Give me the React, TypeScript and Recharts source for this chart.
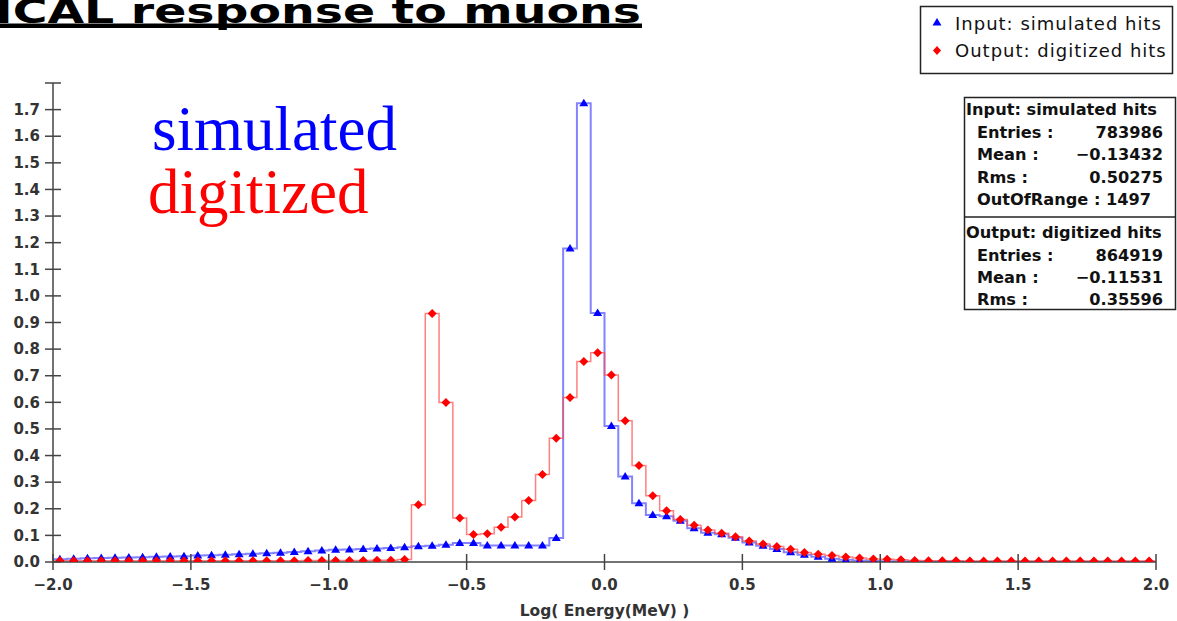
import { ComposedChart, Line, XAxis, YAxis } from "recharts";

// histogram binning: 80 bins of 0.05 between -2 and 2
const binLow = -2.0;
const binHigh = 2.0;
const binWidth = 0.05;

const xTicks = [-2.0, -1.5, -1.0, -0.5, 0.0, 0.5, 1.0, 1.5, 2.0];
const yTicks = [0, 0.1, 0.2, 0.3, 0.4, 0.5, 0.6, 0.7, 0.8, 0.9, 1.0, 1.1, 1.2, 1.3, 1.4, 1.5, 1.6, 1.7, 1.8];

// Input: simulated hits (bin contents, left to right)
const simulated = [
    0.010, 0.012, 0.014, 0.015, 0.016, 0.017, 0.018, 0.020, 0.021, 0.022,
    0.024, 0.025, 0.027, 0.029, 0.031, 0.033, 0.035, 0.038, 0.040, 0.043,
    0.046, 0.047, 0.049, 0.051, 0.053, 0.055, 0.059, 0.061, 0.065, 0.071,
    0.071, 0.062, 0.062, 0.062, 0.062, 0.062, 0.090, 1.178, 1.724, 0.936,
    0.511, 0.321, 0.221, 0.177, 0.172, 0.155, 0.127, 0.110, 0.104, 0.091,
    0.073, 0.061, 0.049, 0.037, 0.027, 0.020, 0.012, 0.008, 0.006, 0.004,
    0.003, 0.003, 0.002, 0.002, 0.002, 0.002, 0.001, 0.001, 0.001, 0.001,
    0.001, 0.001, 0.001, 0.001, 0.001, 0.001, 0.001, 0.001, 0.001, 0.001,
];

// Output: digitized hits
const digitized = [
    0.005, 0.005, 0.005, 0.005, 0.005, 0.005, 0.005, 0.005, 0.005, 0.005,
    0.005, 0.005, 0.005, 0.005, 0.005, 0.005, 0.005, 0.005, 0.006, 0.006,
    0.006, 0.006, 0.006, 0.007, 0.007, 0.009, 0.215, 0.934, 0.599, 0.165,
    0.103, 0.106, 0.131, 0.169, 0.231, 0.329, 0.465, 0.618, 0.753, 0.786,
    0.703, 0.531, 0.363, 0.249, 0.193, 0.160, 0.138, 0.120, 0.108, 0.095,
    0.079, 0.068, 0.058, 0.048, 0.036, 0.029, 0.024, 0.019, 0.015, 0.011,
    0.010, 0.008, 0.006, 0.005, 0.005, 0.005, 0.004, 0.004, 0.004, 0.004,
    0.004, 0.004, 0.004, 0.004, 0.004, 0.004, 0.004, 0.004, 0.004, 0.004,
];

const simStats = [
    ["Entries :", "783986"],
    ["Mean :", "\u22120.13432"],
    ["Rms :", "0.50275"],
    ["OutOfRange : 1497", ""],
];
const digiStats = [
    ["Entries :", "864919"],
    ["Mean :", "\u22120.11531"],
    ["Rms :", "0.35596"],
];

// rows at bin centres, plus an edge row on each side so the steps reach -2 and 2
const rows: any[] = [{ x: binLow, sim: simulated[0], digi: digitized[0], edge: true }];
simulated.forEach((v, i) => {
    rows.push({ x: binLow + binWidth * (i + 0.5), sim: v, digi: digitized[i] });
});
rows.push({ x: binHigh, sim: simulated[simulated.length - 1], digi: digitized[digitized.length - 1], edge: true });

const fmt = (v: number) => (v < 0 ? "\u2212" : "") + Math.abs(v).toFixed(1);
const tickFont = { fontFamily: "DejaVu Sans", fontWeight: "bold", fontSize: 15, fill: "#333" } as const;

const XTick = (props: any) => {
    const { x, y, payload } = props;
    return (
        <g>
            <line x1={x} x2={x} y1={y - 8} y2={y + 8} stroke="#444" strokeWidth={1.5} />
            <text x={x} y={y + 23} textAnchor="middle" dy="0.35em" {...tickFont}>{fmt(payload.value)}</text>
        </g>
    );
};

const YTick = (props: any) => {
    const { x, y, payload } = props;
    return (
        <g>
            <line x1={x - 8} x2={x + 8} y1={y} y2={y} stroke="#444" strokeWidth={1.5} />
            {payload.value < 1.75 && (
                <text x={x - 13} y={y} textAnchor="end" dy="0.35em" {...tickFont}>{fmt(payload.value)}</text>
            )}
        </g>
    );
};

const triangleDot = (props: any) => {
    const { cx, cy, payload, index } = props;
    if (payload.edge || cx == null) return <g key={"t" + index} />;
    return <path key={"t" + index} d={`M${cx},${cy - 4.5}L${cx + 4.5},${cy + 3}L${cx - 4.5},${cy + 3}Z`} fill="#0000ff" />;
};

const diamondDot = (props: any) => {
    const { cx, cy, payload, index } = props;
    if (payload.edge || cx == null) return <g key={"d" + index} />;
    return <path key={"d" + index} d={`M${cx},${cy - 4.5}L${cx + 4.5},${cy}L${cx},${cy + 4.5}L${cx - 4.5},${cy}Z`} fill="#ff0000" />;
};

const legendFont = { fontFamily: "DejaVu Sans", fontSize: 18, letterSpacing: 1, fill: "#111" } as const;
const statFont = { fontFamily: "DejaVu Sans", fontWeight: "bold", fontSize: 16.2, fill: "#111" } as const;

export default function App() {
    return (
        <div style={{ position: "absolute", left: 0, top: 0, width: 1177, height: 621, background: "#fff", overflow: "hidden" }}>
            <ComposedChart width={1177} height={621} data={rows} margin={{ top: 83, right: 21, left: 0, bottom: 0 }}>
                <XAxis
                    type="number" dataKey="x" domain={[binLow, binHigh]} ticks={xTicks} interval={0} allowDataOverflow
                    height={59} tickSize={0} tickMargin={0} tick={XTick}
                    axisLine={{ stroke: "#444", strokeWidth: 1.5 }}
                    label={{ value: "Log( Energy(MeV) )", position: "insideBottom", offset: 5, style: { fontFamily: "DejaVu Sans", fontWeight: "bold", fontSize: 15.5, fill: "#333" } }}
                />
                <YAxis
                    type="number" domain={[0, 1.8]} ticks={yTicks} interval={0} allowDataOverflow
                    width={53} tickSize={0} tickMargin={0} tick={YTick}
                    axisLine={{ stroke: "#444", strokeWidth: 1.5 }}
                />
                <Line dataKey="sim" name="Input: simulated hits" type="step" stroke="#5a5aff" strokeOpacity={0.75} strokeWidth={2}
                    dot={triangleDot} activeDot={false} isAnimationActive={false} />
                <Line dataKey="digi" name="Output: digitized hits" type="step" stroke="#ff4a4a" strokeOpacity={0.7} strokeWidth={1.5}
                    dot={diamondDot} activeDot={false} isAnimationActive={false} />
            </ComposedChart>

            <svg width={1177} height={621} style={{ position: "absolute", left: 0, top: 0, pointerEvents: "none" }}>
                <text x={-5} y={22.5} fontFamily="DejaVu Sans" fontWeight="bold" fontSize={34} fill="#000"
                    textLength={646} lengthAdjust="spacingAndGlyphs">ICAL response to muons</text>
                <rect x={0} y={23.5} width={642} height={4.5} fill="#000" />

                <text x={152} y={150} fontFamily="Liberation Serif" fontSize={63} fill="#0000ff">simulated</text>
                <text x={148} y={213} fontFamily="Liberation Serif" fontSize={63} fill="#ff0000">digitized</text>

                {/* legend */}
                <rect x={920.5} y={6.5} width={252} height={67} fill="#fff" stroke="#222" strokeWidth={1.5} />
                <path d="M937,18L941.5,25.5L932.5,25.5Z" fill="#0000ff" />
                <text x={955} y={29.5} {...legendFont}>Input: simulated hits</text>
                <path d="M937,46L941,50.5L937,55L933,50.5Z" fill="#ff0000" />
                <text x={955} y={57} {...legendFont}>Output: digitized hits</text>

                {/* statistics boxes */}
                <rect x={964.5} y={97.5} width={211} height={212} fill="#fff" stroke="#222" strokeWidth={1.5} />
                <line x1={964.5} x2={1175.5} y1={217} y2={217} stroke="#222" strokeWidth={1.5} />
                <text x={966} y={115} {...statFont}>Input: simulated hits</text>
                {simStats.map((s, i) => (
                    <g key={"s" + i}>
                        <text x={977} y={138 + i * 22.4} {...statFont}>{s[0]}</text>
                        <text x={1163} y={138 + i * 22.4} textAnchor="end" {...statFont}>{s[1]}</text>
                    </g>
                ))}
                <text x={966} y={238} {...statFont}>Output: digitized hits</text>
                {digiStats.map((s, i) => (
                    <g key={"o" + i}>
                        <text x={977} y={261 + i * 22.2} {...statFont}>{s[0]}</text>
                        <text x={1163} y={261 + i * 22.2} textAnchor="end" {...statFont}>{s[1]}</text>
                    </g>
                ))}
            </svg>
        </div>
    );
}
